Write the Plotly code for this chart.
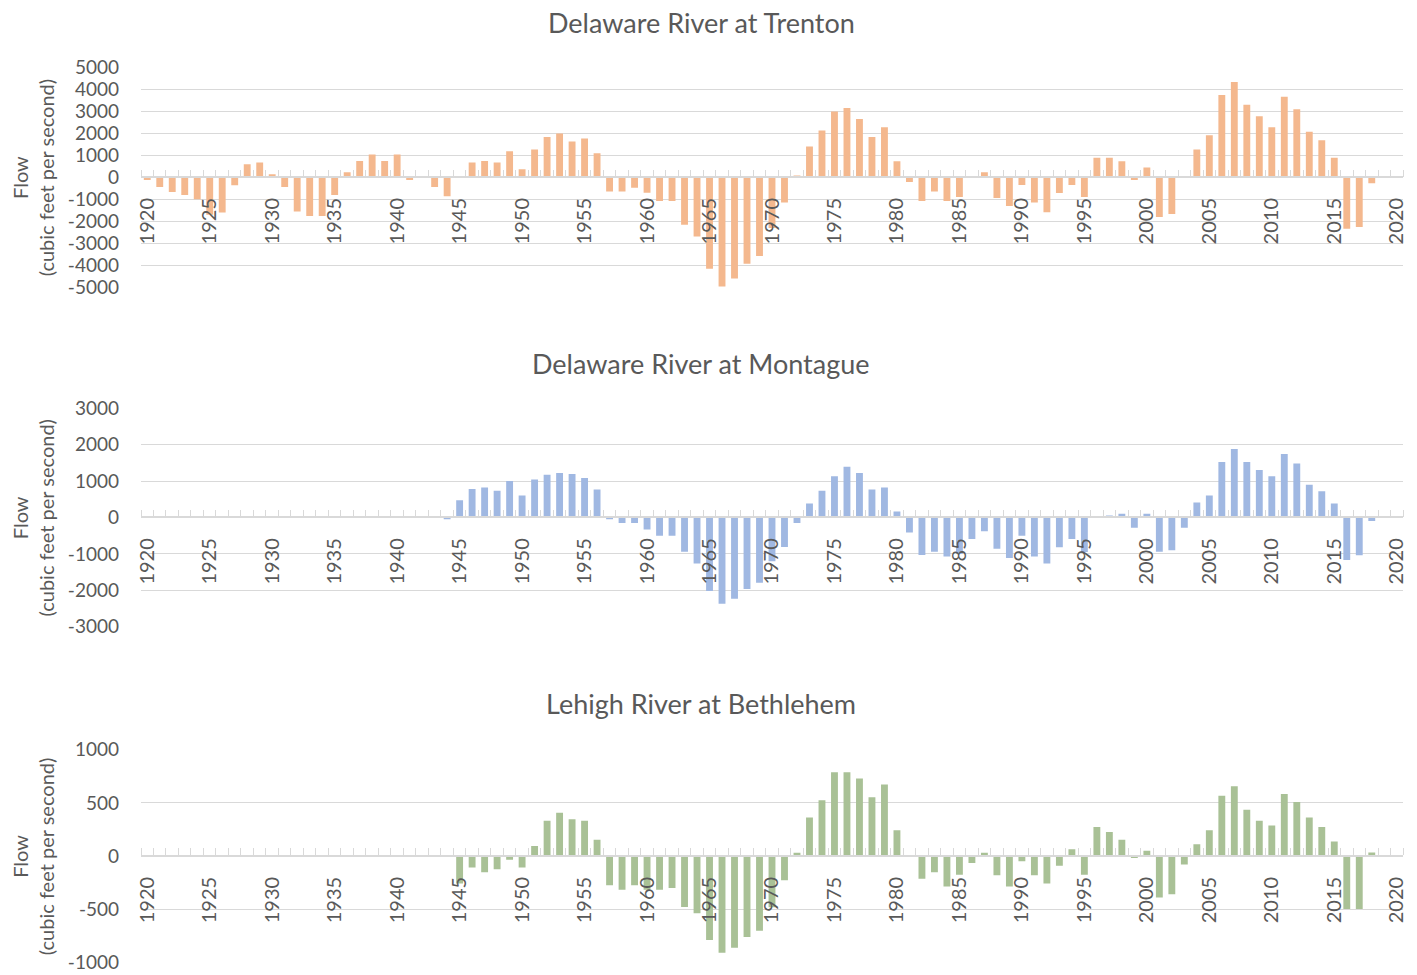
import plotly.graph_objects as go

years = list(range(1920, 2021))

trenton = [
    -120, -440, -670, -800, -1000, -1700, -1600, -360, 590, 670,   # 1920-1929
    140, -440, -1550, -1760, -1760, -800, 230, 740, 1030, 740,    # 1930-1939
    1030, -130, -30, -440, -860, -30, 670, 740, 670, 1180,        # 1940-1949
    360, 1260, 1830, 1980, 1620, 1760, 1090, -650, -650, -480,    # 1950-1959
    -700, -1080, -1080, -2150, -2690, -4150, -4950, -4590, -3920, -3570,  # 1960-1969
    -2300, -1150, 80, 1390, 2120, 2980, 3140, 2640, 1830, 2270,   # 1970-1979
    730, -210, -1080, -650, -1080, -900, -20, 230, -940, -1300,   # 1980-1989
    -350, -1150, -1590, -710, -350, -900, 880, 880, 730, -120,    # 1990-1999
    440, -1800, -1670, -30, 1260, 1910, 3730, 4320, 3290, 2770,   # 2000-2009
    2270, 3650, 3080, 2060, 1680, 880, -2330, -2260, -270, None,  # 2010-2019
    None,                                                          # 2020
]

montague = [None] * 24 + [
    -50, 470, 780, 820, 730, 1000,                                # 1944-1949
    600, 1040, 1170, 1220, 1190, 1080, 770, -50, -150, -150,      # 1950-1959
    -330, -500, -500, -940, -1260, -2020, -2370, -2230, -1960, -1790,  # 1960-1969
    -1200, -810, -150, 380, 730, 1130, 1390, 1220, 770, 820,      # 1970-1979
    160, -410, -1030, -940, -1070, -1000, -590, -380, -860, -1110,  # 1980-1989
    -500, -1070, -1260, -820, -590, -950, 0, 55, 100, -280,       # 1990-1999
    100, -940, -900, -280, 410, 600, 1520, 1880, 1520, 1300,      # 2000-2009
    1130, 1740, 1480, 900, 720, 380, -1170, -1040, -100, None,    # 2010-2019
    None,                                                          # 2020
]

lehigh = [None] * 25 + [
    -258, -107, -153, -123, -34,                                  # 1945-1949
    -107, 95, 331, 408, 347, 331, 153, -273, -316, -273,          # 1950-1959
    -316, -316, -300, -479, -537, -788, -908, -862, -761, -702,   # 1960-1969
    -480, -227, 31, 362, 525, 788, 788, 730, 552, 672,            # 1970-1979
    242, 0, -212, -153, -285, -175, -64, 31, -181, -285,          # 1980-1989
    -49, -181, -258, -92, 64, -175, 273, 227, 153, -18,           # 1990-1999
    49, -390, -359, -80, 110, 242, 567, 656, 436, 331,            # 2000-2009
    288, 583, 509, 362, 273, 138, -497, -497, 34, None,           # 2010-2019
    None,                                                          # 2020
]

titles = ["Delaware River at Trenton", "Delaware River at Montague", "Lehigh River at Bethlehem"]
series = [trenton, montague, lehigh]
colors = ["#F4B88E", "#A0B8E2", "#A9C196"]
y_ticks = [
    [-5000, -4000, -3000, -2000, -1000, 0, 1000, 2000, 3000, 4000, 5000],
    [-3000, -2000, -1000, 0, 1000, 2000, 3000],
    [-1000, -500, 0, 500, 1000],
]
ytitle = "Flow<br>(cubic feet per second)"

FONT = "Lato"
TXT = "#595959"
GRID = "#D9D9D9"

# plot-area fractions (paper), from bottom
domains = [(0.755, 1.0), (0.378, 0.621), (0.005, 0.2415)]
title_y = [1.049, 0.671, 0.293]

fig = go.Figure()
layout = dict(
    width=1417, height=975,
    margin=dict(l=141, r=14, t=67, b=8, autoexpand=False),
    paper_bgcolor="white", plot_bgcolor="white",
    showlegend=False,
    font=dict(family=FONT, color=TXT, size=19),
    annotations=[],
)

for i, (vals, col) in enumerate(zip(series, colors)):
    xa = "x" if i == 0 else f"x{i+1}"
    ya = "y" if i == 0 else f"y{i+1}"
    fig.add_trace(go.Bar(x=years, y=vals, xaxis=xa, yaxis=ya,
                         marker=dict(color=col, line=dict(width=0)),
                         width=0.55))
    tv = y_ticks[i]
    d = domains[i]
    layout["xaxis" if i == 0 else f"xaxis{i+1}"] = dict(
        range=[1919.5, 2020.5], anchor="free", position=(d[0] + d[1]) / 2,
        domain=[0, 1], automargin=False,
        tickmode="linear", tick0=1920, dtick=5, tickangle=-90,
        ticks="", showgrid=False, zeroline=False,
        showline=True, linecolor=GRID, linewidth=1.5,
        ticklabelstandoff=12, ticklabeloverflow="allow",
        tickfont=dict(family=FONT, size=20, color=TXT),
        minor=dict(ticks="inside", tick0=1919.5, dtick=1, ticklen=7,
                   tickcolor=GRID, tickwidth=1.2, showgrid=False),
    )
    layout["yaxis" if i == 0 else f"yaxis{i+1}"] = dict(
        domain=list(d), anchor=xa, range=[tv[0], tv[-1]], automargin=False,
        tickmode="array", tickvals=tv, ticktext=[str(v) for v in tv],
        showgrid=True, gridcolor=GRID, gridwidth=1.3,
        zeroline=False, showline=False, ticks="",
        ticklabelstandoff=21, ticklabeloverflow="allow",
        tickfont=dict(family=FONT, size=19, color=TXT),
    )
    layout["annotations"].append(dict(
        text=titles[i], xref="paper", yref="paper", x=0.444, y=title_y[i],
        xanchor="center", yanchor="middle", showarrow=False,
        font=dict(family=FONT, size=27, color=TXT)))
    layout["annotations"].append(dict(
        text=ytitle, xref="paper", yref="paper", x=-0.0855, y=(d[0] + d[1]) / 2,
        xanchor="center", yanchor="middle", showarrow=False, textangle=-90,
        font=dict(family=FONT, size=20, color=TXT)))

fig.update_layout(**layout)
fig.write_html("out.html", config={"displayModeBar": False},
               post_script="document.body.style.margin='0';document.body.style.overflow='hidden';")
